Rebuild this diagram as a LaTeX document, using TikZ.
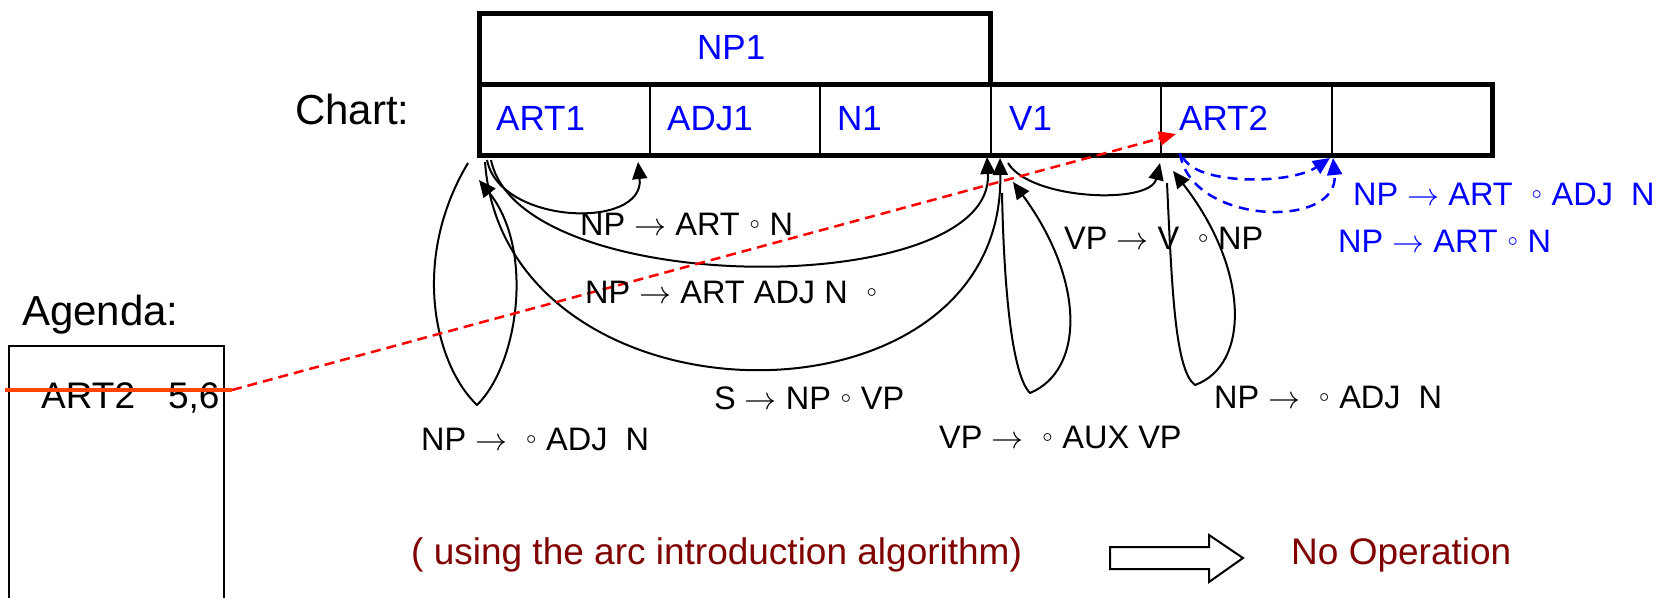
\documentclass[tikz,border=0pt]{standalone}
\usepackage{graphicx}
\usepackage{fontspec}
\setmainfont{Liberation Sans}
\usetikzlibrary{arrows.meta}
\definecolor{maroonx}{RGB}{128,0,0}
\definecolor{strikec}{RGB}{255,69,0}
\newcommand\myarr{{\fontsize{10}{12}\selectfont\scalebox{3.2}{$\rightarrow$}}}
\newcommand\mydot{{\fontsize{10}{12}\selectfont\raisebox{7pt}{\scalebox{3.2}{$\scriptscriptstyle\circ$}}}}
\begin{document}
\begin{tikzpicture}[x=1pt,y=-1pt,
  lbl/.style={anchor=base west, inner sep=0pt, font=\fontsize{32.5}{39}\selectfont},
  big/.style={anchor=base west, inner sep=0pt, font=\fontsize{42}{50}\selectfont},
  celltxt/.style={anchor=base west, inner sep=0pt, text=blue, font=\fontsize{35}{42}\selectfont},
  mid/.style={anchor=base west, inner sep=0pt, font=\fontsize{37}{44}\selectfont},
  arc/.style={line width=2pt, -{Triangle[length=17pt,width=15pt]}},
  bluearc/.style={line width=2.5pt, blue, dash pattern=on 10pt off 7pt, -{Triangle[length=17pt,width=15pt]}},
  redarc/.style={line width=2.5pt, red, dash pattern=on 10pt off 6pt, -{Triangle[length=17pt,width=14pt]}},
  thick frame/.style={line width=5pt},
  divider/.style={line width=2pt}
]
\useasboundingbox (0,0) rectangle (1665,597);

% chart
\draw[thick frame] (479,13) rectangle (990.5,84);
\draw[thick frame] (479,84) rectangle (1492,155);
\foreach \x in {650,820,990.5,1161,1332} \draw[divider] (\x,84) -- (\x,155);

\node[big] (chart) at (295,124) {Chart:};
\node[celltxt] (np1) at (697,59) {NP1};
\node[celltxt] (art1) at (496,130) {ART1};
\node[celltxt] (adj1) at (667,130) {ADJ1};
\node[celltxt] (n1) at (837,130) {N1};
\node[celltxt] (v1) at (1009,130) {V1};
\node[celltxt] (art2) at (1179,130) {ART2};

% agenda
\node[big] (agenda) at (22,325) {Agenda:};
\draw[line width=1.8pt] (9,600) -- (9,346) -- (224,346) -- (224,600);
\node[mid] (entry) at (41,408) {ART2\hspace{33pt}5,6};
\coordinate (sl) at (5,390);
\coordinate (sr) at (232,390);
\coordinate (redtip) at (1176,134);

% arc endpoints
\coordinate (a1s) at (487,160); \coordinate (a1e) at (638,162);
\coordinate (a2s) at (491,160); \coordinate (a2e) at (987,157);
\coordinate (a3s) at (485,162); \coordinate (a3e) at (1000,158);
\coordinate (lls) at (468,163); \coordinate (llb) at (477,405); \coordinate (lle) at (479,180);
\coordinate (vls) at (1002,193); \coordinate (vlb) at (1030,393); \coordinate (vle) at (1013,182);
\coordinate (a5s) at (1008,163); \coordinate (a5e) at (1160,163);
\coordinate (als) at (1167,183); \coordinate (alb) at (1195,385); \coordinate (ale) at (1173,171);
\coordinate (b1s) at (1183,157); \coordinate (b1e) at (1330,158);
\coordinate (b2s) at (1180,153); \coordinate (b2e) at (1333,158);

\draw[arc] (a1s) .. controls (500,225) and (645,230) .. (a1e);
\draw[arc] (a2s) .. controls (520,300) and (995,300) .. (a2e);
\draw[arc] (a3s) .. controls (505,435) and (1005,440) .. (a3e);
\draw[arc, line join=round] (lls) .. controls (410,260) and (435,365) .. (llb) .. controls (518,365) and (535,250) .. (lle);
\draw[arc, line join=round] (vls) .. controls (1004,290) and (1012,375) .. (vlb) .. controls (1085,370) and (1085,280) .. (vle);
\draw[arc] (a5s) .. controls (1030,200) and (1150,205) .. (a5e);
\draw[arc, line join=round] (als) .. controls (1172,290) and (1175,370) .. (alb) .. controls (1250,365) and (1250,270) .. (ale);
\draw[bluearc] (b1s) .. controls (1195,185) and (1290,185) .. (b1e);
\draw[bluearc] (b2s) .. controls (1190,225) and (1340,230) .. (b2e);

\draw[strikec, line width=4pt] (sl) -- (sr);
\draw[redarc] (sr) -- (redtip);

% labels
\node[lbl] (l1) at (580,235) {NP \myarr{} ART \mydot{} N};
\node[lbl] (l2) at (585,303) {NP \myarr{} ART ADJ N\ \ \mydot};
\node[lbl] (l3) at (714,409) {S \myarr{} NP \mydot{} VP};
\node[lbl] (l4) at (421,450) {NP \myarr\ \ \mydot{} ADJ\ \ N};
\node[lbl] (l5) at (939,448) {VP \myarr\ \ \mydot{} AUX VP};
\node[lbl] (l6) at (1064,249) {VP \myarr{} V\ \ \mydot{} NP};
\node[lbl] (l7) at (1214,408) {NP \myarr\ \ \mydot{} ADJ\ \ N};
\node[lbl, text=blue] (l8) at (1353,205) {NP \myarr{} ART\ \ \mydot{} ADJ\ \ N};
\node[lbl, text=blue] (l9) at (1338,252) {NP \myarr{} ART \mydot{} N};

% bottom
\node[mid, text=maroonx] (algo) at (411,564) {( using the arc introduction algorithm)};
\draw[line width=2pt, line join=miter] (1110,547) -- (1209,547) -- (1209,535) -- (1243,558) -- (1209,582) -- (1209,569) -- (1110,569) -- cycle;
\node[mid, text=maroonx] (noop) at (1291,564) {No Operation};
\end{tikzpicture}
\end{document}
